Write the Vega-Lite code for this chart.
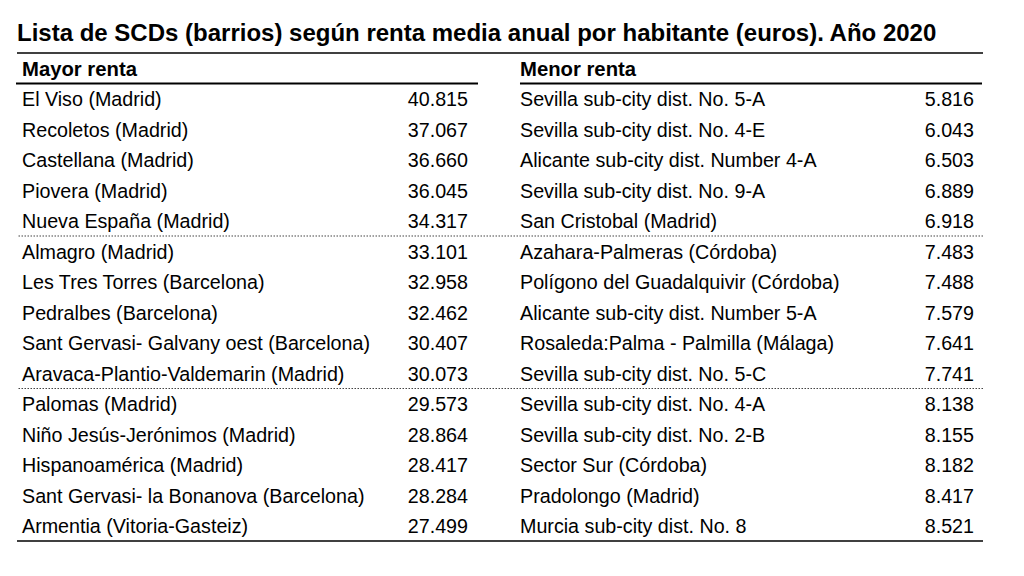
{
  "$schema": "https://vega.github.io/schema/vega-lite/v6.json",
  "autosize": "none",
  "width": 966,
  "height": 488,
  "padding": {"left": 17, "top": 53, "right": 41, "bottom": 35},
  "background": "white",
  "config": {
    "view": {"stroke": null},
    "locale": {"number": {"decimal": ",", "thousands": ".", "grouping": [3], "currency": ["", " €"]}},
    "text": {"font": "Liberation Sans", "fontSize": 19.7, "color": "#000"}
  },
  "title": {
    "text": "Lista de SCDs (barrios) según renta media anual por habitante (euros). Año 2020",
    "anchor": "start",
    "frame": "group",
    "font": "Liberation Sans",
    "fontSize": 24,
    "fontWeight": "bold",
    "color": "#000",
    "offset": 6
  },
  "datasets": {
    "rows": [
      {"side": "Mayor renta", "rank": 1, "name": "El Viso (Madrid)", "value": 40815},
      {"side": "Mayor renta", "rank": 2, "name": "Recoletos (Madrid)", "value": 37067},
      {"side": "Mayor renta", "rank": 3, "name": "Castellana (Madrid)", "value": 36660},
      {"side": "Mayor renta", "rank": 4, "name": "Piovera (Madrid)", "value": 36045},
      {"side": "Mayor renta", "rank": 5, "name": "Nueva España (Madrid)", "value": 34317},
      {"side": "Mayor renta", "rank": 6, "name": "Almagro (Madrid)", "value": 33101},
      {"side": "Mayor renta", "rank": 7, "name": "Les Tres Torres (Barcelona)", "value": 32958},
      {"side": "Mayor renta", "rank": 8, "name": "Pedralbes (Barcelona)", "value": 32462},
      {"side": "Mayor renta", "rank": 9, "name": "Sant Gervasi- Galvany oest (Barcelona)", "value": 30407},
      {"side": "Mayor renta", "rank": 10, "name": "Aravaca-Plantio-Valdemarin (Madrid)", "value": 30073},
      {"side": "Mayor renta", "rank": 11, "name": "Palomas (Madrid)", "value": 29573},
      {"side": "Mayor renta", "rank": 12, "name": "Niño Jesús-Jerónimos (Madrid)", "value": 28864},
      {"side": "Mayor renta", "rank": 13, "name": "Hispanoamérica (Madrid)", "value": 28417},
      {"side": "Mayor renta", "rank": 14, "name": "Sant Gervasi- la Bonanova (Barcelona)", "value": 28284},
      {"side": "Mayor renta", "rank": 15, "name": "Armentia (Vitoria-Gasteiz)", "value": 27499},
      {"side": "Menor renta", "rank": 1, "name": "Sevilla sub-city dist. No. 5-A", "value": 5816},
      {"side": "Menor renta", "rank": 2, "name": "Sevilla sub-city dist. No. 4-E", "value": 6043},
      {"side": "Menor renta", "rank": 3, "name": "Alicante sub-city dist. Number 4-A", "value": 6503},
      {"side": "Menor renta", "rank": 4, "name": "Sevilla sub-city dist. No. 9-A", "value": 6889},
      {"side": "Menor renta", "rank": 5, "name": "San Cristobal (Madrid)", "value": 6918},
      {"side": "Menor renta", "rank": 6, "name": "Azahara-Palmeras (Córdoba)", "value": 7483},
      {"side": "Menor renta", "rank": 7, "name": "Polígono del Guadalquivir (Córdoba)", "value": 7488},
      {"side": "Menor renta", "rank": 8, "name": "Alicante sub-city dist. Number 5-A", "value": 7579},
      {"side": "Menor renta", "rank": 9, "name": "Rosaleda:Palma - Palmilla (Málaga)", "value": 7641},
      {"side": "Menor renta", "rank": 10, "name": "Sevilla sub-city dist. No. 5-C", "value": 7741},
      {"side": "Menor renta", "rank": 11, "name": "Sevilla sub-city dist. No. 4-A", "value": 8138},
      {"side": "Menor renta", "rank": 12, "name": "Sevilla sub-city dist. No. 2-B", "value": 8155},
      {"side": "Menor renta", "rank": 13, "name": "Sector Sur (Córdoba)", "value": 8182},
      {"side": "Menor renta", "rank": 14, "name": "Pradolongo (Madrid)", "value": 8417},
      {"side": "Menor renta", "rank": 15, "name": "Murcia sub-city dist. No. 8", "value": 8521}
    ],
    "sides": [
      {"side": "Mayor renta"},
      {"side": "Menor renta"}
    ],
    "one": [{}]
  },
  "layer": [
    {
      "data": {"name": "rows"},
      "mark": {"type": "text", "align": "left", "baseline": "middle", "dy": 1.5},
      "encoding": {
        "x": {"field": "side", "type": "nominal", "axis": null, "scale": {"type": "point", "domain": ["Mayor renta", "Menor renta"], "range": [5, 503], "padding": 0}},
        "y": {"field": "rank", "type": "quantitative", "axis": null, "scale": {"domain": [-0.5, 15.5], "reverse": true, "zero": false, "nice": false}},
        "text": {"field": "name", "type": "nominal"}
      }
    },
    {
      "data": {"name": "rows"},
      "mark": {"type": "text", "align": "right", "baseline": "middle", "dy": 1.5},
      "encoding": {
        "x": {"field": "side", "type": "nominal", "axis": null, "scale": {"type": "point", "domain": ["Mayor renta", "Menor renta"], "range": [451, 957], "padding": 0}},
        "y": {"field": "rank", "type": "quantitative", "axis": null, "scale": {"domain": [-0.5, 15.5], "reverse": true, "zero": false, "nice": false}},
        "text": {"field": "value", "type": "quantitative", "format": ",d"}
      }
    },
    {
      "data": {"name": "sides"},
      "mark": {"type": "text", "align": "left", "baseline": "middle", "fontWeight": "bold", "fontSize": 20.3, "dy": 1.5},
      "encoding": {
        "x": {"field": "side", "type": "nominal", "axis": null, "scale": {"type": "point", "domain": ["Mayor renta", "Menor renta"], "range": [5, 503], "padding": 0}},
        "y": {"datum": 0, "type": "quantitative", "axis": null, "scale": {"domain": [-0.5, 15.5], "reverse": true, "zero": false, "nice": false}},
        "text": {"field": "side", "type": "nominal"}
      }
    },
    {
      "data": {"name": "sides"},
      "mark": {"type": "rule", "color": "#000", "strokeWidth": 2},
      "encoding": {
        "x": {"field": "side", "type": "nominal", "axis": null, "bandPosition": 0, "scale": {"type": "band", "domain": ["Mayor renta", "Menor renta"], "range": [-1, 965], "paddingInner": 0.0833, "paddingOuter": 0}},
        "x2": {"field": "side", "bandPosition": 1},
        "y": {"datum": 0.5, "type": "quantitative", "axis": null, "scale": {"domain": [-0.5, 15.5], "reverse": true, "zero": false, "nice": false}}
      }
    },
    {
      "data": {"name": "one"},
      "mark": {"type": "rule", "color": "#000", "strokeWidth": 1.5},
      "encoding": {
        "y": {"datum": -0.5, "type": "quantitative", "axis": null, "scale": {"domain": [-0.5, 15.5], "reverse": true, "zero": false, "nice": false}}
      }
    },
    {
      "data": {"name": "one"},
      "mark": {"type": "rule", "color": "#000", "strokeWidth": 1.5},
      "encoding": {
        "y": {"datum": 15.5, "type": "quantitative", "axis": null, "scale": {"domain": [-0.5, 15.5], "reverse": true, "zero": false, "nice": false}}
      }
    },
    {
      "data": {"name": "one"},
      "mark": {"type": "rule", "color": "#444", "strokeWidth": 1.2, "strokeDash": [1.5, 1.5]},
      "encoding": {
        "y": {"datum": 5.5, "type": "quantitative", "axis": null, "scale": {"domain": [-0.5, 15.5], "reverse": true, "zero": false, "nice": false}}
      }
    },
    {
      "data": {"name": "one"},
      "mark": {"type": "rule", "color": "#444", "strokeWidth": 1.2, "strokeDash": [1.5, 1.5]},
      "encoding": {
        "y": {"datum": 10.5, "type": "quantitative", "axis": null, "scale": {"domain": [-0.5, 15.5], "reverse": true, "zero": false, "nice": false}}
      }
    }
  ],
  "resolve": {"scale": {"x": "independent"}}
}
